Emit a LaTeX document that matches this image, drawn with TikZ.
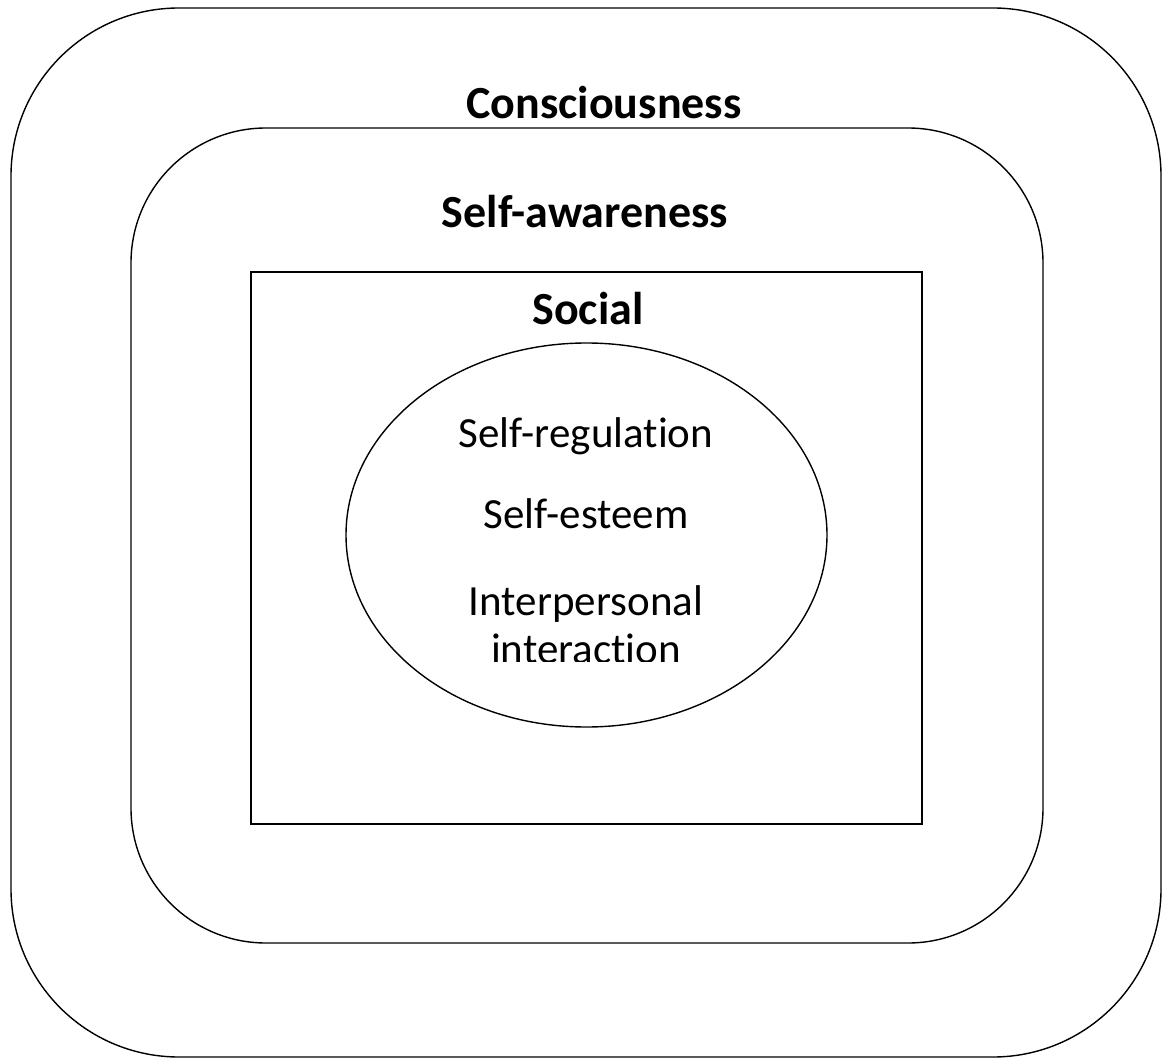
\documentclass[tikz,border=0pt]{standalone}
\usepackage{fontspec}
\setmainfont{Carlito}[Ligatures={NoCommon}]
\usetikzlibrary{shapes.geometric}
\tikzset{
  layer/.style={draw=black,line width=1.4pt,rectangle,inner sep=0pt},
  title/.style={anchor=base,inner sep=0pt,font=\fontsize{46}{54}\selectfont\bfseries},
  item/.style={anchor=base,inner sep=0pt,align=center,font=\fontsize{43}{48}\selectfont}
}
\begin{document}
\begin{tikzpicture}[x=1pt,y=-1pt]
\useasboundingbox (0,0) rectangle (1165,1064);

\node at (586,532.5) [layer,rounded corners=168pt,minimum width=1150pt,minimum height=1049pt] (consc) {};
\node at (587,535.5) [layer,rounded corners=135pt,minimum width=912pt,minimum height=815pt] (aware) {};
\node at (586.5,548) [layer,minimum width=671pt,minimum height=552pt] (social) {};
\node at (586.5,535) [layer,ellipse,minimum width=481pt,minimum height=384pt] (inner) {};

\node at (604,119) [title] (consclbl) {Consciousness};
\node at (585,228) [title] (awarelbl) {Self-awareness};
\node at (588,325) [title] (sociallbl) {Social};

\node at (586,448) [item] (regul) {Self-regulation};
\node at (586,528) [item] (esteem) {Self-esteem};
\begin{scope}
\clip (380,560) rectangle (800,661);
\node at (586,663) [item] (interp) {Interpersonal\\interaction};
\end{scope}
\end{tikzpicture}
\end{document}
